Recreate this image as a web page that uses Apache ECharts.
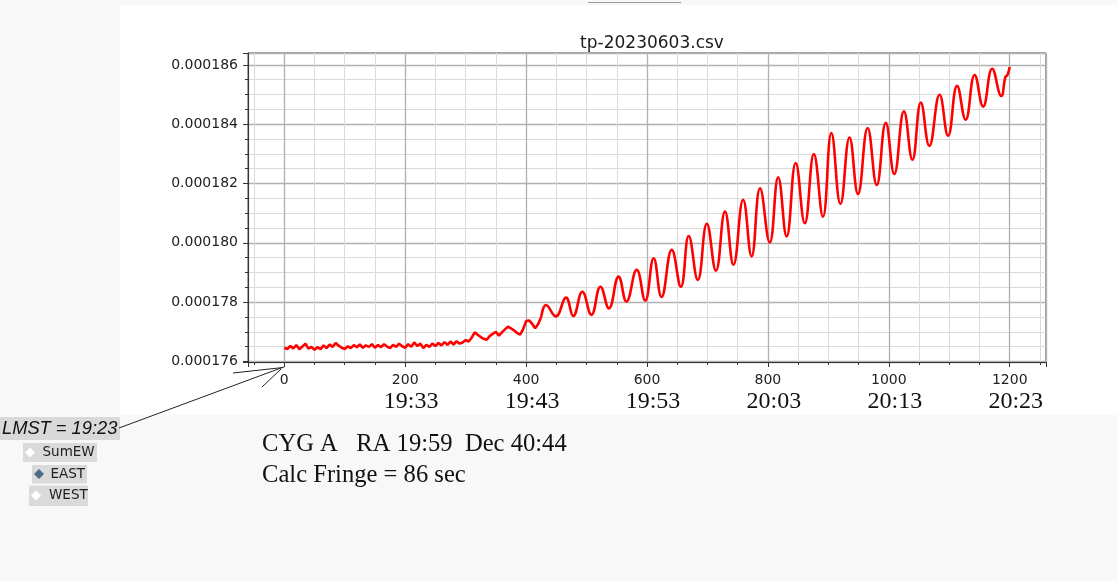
<!DOCTYPE html>
<html>
<head>
<meta charset="utf-8">
<script src="https://cdn.jsdelivr.net/npm/echarts@6/dist/echarts.min.js"></script>
<style>
html,body{margin:0;padding:0;background:#f8f8f8;width:1117px;height:581px;overflow:hidden}
#panel{position:absolute;left:120px;top:5px;width:997px;height:410px;background:#ffffff}
#topline{position:absolute;left:588px;top:2px;width:93px;height:1px;background:#9a9a9a}
#chart{position:absolute;left:0;top:0;width:1117px;height:581px}
</style>
</head>
<body>
<div id="panel"></div>
<div id="topline"></div>
<div id="chart"></div>
<script>
// ---------- data ----------
const chartTitle = 'tp-20230603.csv';

// quiet, noisy part of the record (seconds, flux)
const noiseSec = [0,5,10,15,20,25,30,35,40,45,50,55,60,65,70,75,80,85,90,95,
  100,105,110,115,120,125,130,135,140,145,150,155,160,165,170,175,180,185,190,195,
  200,205,210,215,220,225,230,235,240,245,250,255,260,265,270,275,280,285,290,
  295,300,305,310,315,320,325,330,335,340,345,350,355,360,365,370,375,380,385,390,
  395,400,405,410,415,420,425];
const noiseFlux = [176.46e-6,176.42e-6,176.52e-6,176.44e-6,176.55e-6,176.41e-6,176.50e-6,176.60e-6,176.43e-6,176.49e-6,
  176.39e-6,176.48e-6,176.41e-6,176.54e-6,176.45e-6,176.57e-6,176.49e-6,176.62e-6,176.53e-6,176.46e-6,
  176.42e-6,176.51e-6,176.45e-6,176.55e-6,176.48e-6,176.57e-6,176.46e-6,176.54e-6,176.49e-6,176.58e-6,
  176.46e-6,176.55e-6,176.48e-6,176.58e-6,176.50e-6,176.45e-6,176.56e-6,176.49e-6,176.60e-6,176.51e-6,
  176.46e-6,176.58e-6,176.49e-6,176.64e-6,176.52e-6,176.60e-6,176.45e-6,176.56e-6,176.49e-6,176.60e-6,
  176.52e-6,176.62e-6,176.54e-6,176.65e-6,176.56e-6,176.67e-6,176.57e-6,176.68e-6,176.60e-6,
  176.64e-6,176.72e-6,176.67e-6,176.80e-6,176.98e-6,176.90e-6,176.82e-6,176.76e-6,176.73e-6,176.86e-6,
  176.93e-6,177.00e-6,176.87e-6,176.98e-6,177.08e-6,177.17e-6,177.11e-6,177.05e-6,176.96e-6,176.90e-6,
  177.08e-6,177.36e-6,177.38e-6,177.27e-6,177.12e-6,177.26e-6,177.50e-6];

// fringe part (peaks and troughs)
const fringeSec = [425,433,449,466,478,493,508,523,537,553,566,583,597,611,624,641,656,669,684,699,
  714,729,743,759,773,787,803,817,831,846,861,876,891,905,920,935,949,965,980,995,
  1009,1025,1039,1053,1067,1084,1098,1113,1127,1142,1156,1171,1186,1193,1196,1200];
const fringeFlux = [177.50e-6,177.90e-6,177.52e-6,178.15e-6,177.53e-6,178.35e-6,177.57e-6,178.52e-6,177.79e-6,178.86e-6,
  178.02e-6,179.09e-6,178.05e-6,179.48e-6,178.17e-6,179.76e-6,178.52e-6,180.23e-6,178.75e-6,180.64e-6,
  179.06e-6,181.05e-6,179.26e-6,181.45e-6,179.54e-6,181.84e-6,180.01e-6,182.21e-6,180.21e-6,182.69e-6,
  180.66e-6,182.99e-6,180.88e-6,183.70e-6,181.31e-6,183.55e-6,181.64e-6,183.87e-6,181.95e-6,184.05e-6,
  182.32e-6,184.43e-6,182.80e-6,184.73e-6,183.27e-6,184.99e-6,183.61e-6,185.29e-6,184.15e-6,185.66e-6,
  184.59e-6,185.87e-6,184.95e-6,185.60e-6,185.65e-6,185.93e-6];

// LMST labels under the second-axis ticks
const lmstTicks = [200,400,600,800,1000,1200];
const lmstLabels = ['19:33','19:43','19:53','20:03','20:13','20:23'];
const lmstStart = 'LMST = 19:23';

const sourceLine1 = 'CYG A   RA 19:59  Dec 40:44';
const sourceLine2 = 'Calc Fringe = 86 sec';
const radioItems = ['SumEW','EAST','WEST'];

// ---------- chart ----------
const chart = echarts.init(document.getElementById('chart'), null, {renderer:'canvas'});

const noiseData = noiseSec.map((s,i)=>[s, noiseFlux[i]]);
const fringeData = fringeSec.map((s,i)=>[s, fringeFlux[i]]);

const X_MIN = -60, X_MAX = 1260;

const option = {
  animation: false,
  backgroundColor: 'transparent',
  title: {
    text: chartTitle,
    left: 647, top: 30, textAlign: 'center',
    textStyle: {fontFamily: 'DejaVu Sans', fontSize: 17, fontWeight: 'normal', color: '#1a1a1a'}
  },
  grid: {
    left: 248, top: 53, right: 71, bottom: 219,
    show: true, borderColor: '#444', borderWidth: 1, backgroundColor: 'transparent'
  },
  xAxis: [{
    type: 'value', min: X_MIN, max: X_MAX, splitNumber: 6, position: 'bottom',
    axisLine: {show: true, onZero: false, lineStyle: {color: '#333', width: 1}},
    axisTick: {show: true, inside: false, length: 5, lineStyle: {color: '#333'}},
    minorTick: {show: true, splitNumber: 4, length: 3, lineStyle: {color: '#333'}},
    splitLine: {show: true, lineStyle: {color: '#b0b0b0', width: 1.3}},
    minorSplitLine: {show: true, lineStyle: {color: '#dadada', width: 1}},
    axisLabel: {margin: 11, fontFamily: 'DejaVu Sans', fontSize: 14, color: '#222',
      showMinLabel: false, showMaxLabel: false,
      formatter: v => String(Math.round(v))}
  }, {
    type: 'value', min: X_MIN, max: X_MAX, splitNumber: 6, position: 'bottom',
    axisLine: {show: false}, axisTick: {show: false}, splitLine: {show: false},
    axisLabel: {margin: 28, fontFamily: 'Liberation Serif', fontSize: 24, color: '#111',
      padding: [0,0,0,12],
      showMinLabel: false, showMaxLabel: false,
      formatter: v => { const i = lmstTicks.indexOf(Math.round(v)); return i >= 0 ? lmstLabels[i] : ''; }}
  }],
  yAxis: {
    type: 'value', min: 175.98e-6, max: 186.40e-6, splitNumber: 5,
    axisLine: {show: true, onZero: false, lineStyle: {color: '#333', width: 1}},
    axisTick: {show: true, inside: false, length: 5, lineStyle: {color: '#333'}},
    minorTick: {show: true, splitNumber: 4, length: 3, lineStyle: {color: '#333'}},
    splitLine: {show: true, lineStyle: {color: '#b0b0b0', width: 1.3}},
    minorSplitLine: {show: true, lineStyle: {color: '#dadada', width: 1}},
    axisLabel: {margin: 10, fontFamily: 'DejaVu Sans', fontSize: 14, color: '#222',
      showMinLabel: false, showMaxLabel: false,
      formatter: v => v.toFixed(6)}
  },
  series: [{
    type: 'line', xAxisIndex: 0, data: noiseData, showSymbol: false, smooth: false,
    lineStyle: {color: '#ff0000', width: 2.6}, itemStyle: {color: '#ff0000'}, z: 5
  }, {
    type: 'line', xAxisIndex: 0, data: fringeData, showSymbol: false, smooth: 0.45,
    lineStyle: {color: '#ff0000', width: 2.6}, itemStyle: {color: '#ff0000'}, z: 5
  }],
  graphic: [
    // LMST start label and arrow
    {type:'rect', shape:{x:0,y:417,width:120,height:23}, style:{fill:'#d9d9d9'}},
    {type:'text', x:2, y:429, style:{text: lmstStart, font:'italic 18.3px "Liberation Sans"', fill:'#111', verticalAlign:'middle'}},
    {type:'line', shape:{x1:119,y1:428,x2:285,y2:366.5}, style:{stroke:'#222', lineWidth:1}},
    {type:'line', shape:{x1:233,y1:373,x2:283,y2:367.5}, style:{stroke:'#222', lineWidth:1}},
    {type:'line', shape:{x1:262,y1:387,x2:281,y2:369}, style:{stroke:'#222', lineWidth:1}},
    // radio buttons
    {type:'rect', shape:{x:23,y:443,width:74,height:19}, style:{fill:'#dadada'}},
    {type:'polygon', shape:{points:[[30,447.5],[35,452.5],[30,457.5],[25,452.5]]}, style:{fill:'#ffffff'}},
    {type:'text', x:42.5, y:452.5, style:{text: radioItems[0], font:'13.5px "DejaVu Sans"', fill:'#222', verticalAlign:'middle'}},
    {type:'rect', shape:{x:32,y:465,width:55,height:18.5}, style:{fill:'#dadada'}},
    {type:'polygon', shape:{points:[[39,469],[44,474],[39,479],[34,474]]}, style:{fill:'#4f6b88'}},
    {type:'text', x:50.5, y:474, style:{text: radioItems[1], font:'13.5px "DejaVu Sans"', fill:'#222', verticalAlign:'middle'}},
    {type:'rect', shape:{x:29,y:485.5,width:59,height:20.5}, style:{fill:'#dadada'}},
    {type:'polygon', shape:{points:[[36,490.5],[41,495.5],[36,500.5],[31,495.5]]}, style:{fill:'#ffffff'}},
    {type:'text', x:49, y:495.5, style:{text: radioItems[2], font:'13.5px "DejaVu Sans"', fill:'#222', verticalAlign:'middle'}},
    // source info
    {type:'text', x:262, y:445, style:{text: sourceLine1, font:'24.6px "Liberation Serif"', fill:'#111', verticalAlign:'middle'}},
    {type:'text', x:262, y:476, style:{text: sourceLine2, font:'24.6px "Liberation Serif"', fill:'#111', verticalAlign:'middle'}}
  ]
};
chart.setOption(option);
</script>
</body>
</html>
